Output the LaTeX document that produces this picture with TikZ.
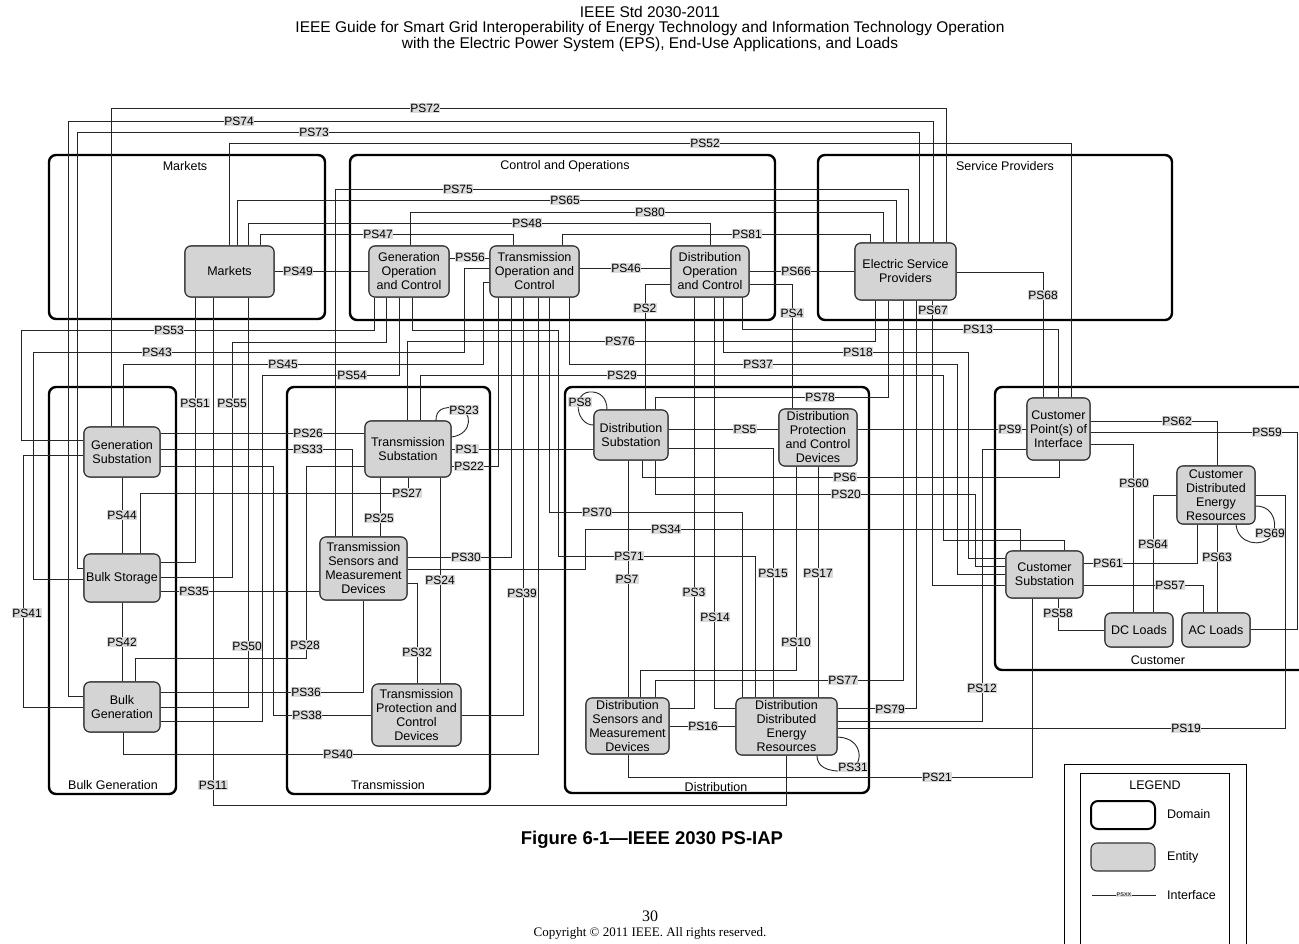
\documentclass[tikz,border=0pt]{standalone}
\usepackage{fontspec}
\setmainfont{Liberation Sans}
\newfontfamily\serifface{Liberation Serif}
\begin{document}
\begin{tikzpicture}[x=1pt,y=-1pt,
  dom/.style={draw=black, line width=2.4pt, rounded corners=7pt, inner sep=0pt},
  ent/.style={draw=black!80, line width=1.1pt, fill=black!17, rounded corners=6pt, align=center, font=\fontsize{12.5}{14}\selectfont, inner sep=1pt},
  ln/.style={draw=black!85, line width=0.9pt},
  lbl/.style={fill=black!14, inner sep=0.6pt, font=\fontsize{12}{12}\selectfont},
  dlbl/.style={font=\fontsize{12.5}{14}\selectfont, inner sep=0pt},
  hdr/.style={font=\fontsize{15.5}{17}\selectfont, inner sep=0pt}]
\useasboundingbox (0,0) rectangle (1299,943);
\fill[white] (0,0) rectangle (1299,943);

% header
\node[hdr] (h1) at (650,12) {IEEE Std 2030-2011};
\node[hdr] (h2) at (650,28) {IEEE Guide for Smart Grid Interoperability of Energy Technology and Information Technology Operation};
\node[hdr] (h3) at (650,44) {with the Electric Power System (EPS), End-Use Applications, and Loads};

% domains
\node[dom, minimum width=276, minimum height=164] (dmk) at (187,237) {};
\node[dom, minimum width=425, minimum height=165] (dco) at (562.5,237.5) {};
\node[dom, minimum width=354, minimum height=165] (dsp) at (995,237.5) {};
\node[dom, minimum width=127, minimum height=407] (dbg) at (112.5,590.5) {};
\node[dom, minimum width=203, minimum height=407] (dtr) at (388.5,590.5) {};
\node[dom, minimum width=304, minimum height=406] (ddi) at (717,590) {};
\node[dom, minimum width=320, minimum height=283] (dcu) at (1155,528.5) {};
\node[dlbl] (tmk) at (185,166) {Markets};
\node[dlbl] (tco) at (565,166) {Control and Operations};
\node[dlbl] (tsp) at (1005,166) {Service Providers};
\node[dlbl] (tbg) at (113,785) {Bulk Generation};
\node[dlbl] (ttr) at (388,785) {Transmission};
\node[dlbl] (tdi) at (716,787) {Distribution};
\node[dlbl] (tcu) at (1158,660) {Customer};

% entities (placed first for anchors, redrawn later on top)
\path
 node[ent, minimum width=89, minimum height=51] (mk) at (229.5,271.5) {Markets}
 node[ent, minimum width=80, minimum height=51] (goc) at (409,271.5) {Generation\\Operation\\and Control}
 node[ent, minimum width=89, minimum height=51] (toc) at (534.5,271.5) {Transmission\\Operation and\\Control}
 node[ent, minimum width=78, minimum height=51] (doc) at (710,271.5) {Distribution\\Operation\\and Control}
 node[ent, minimum width=101, minimum height=57] (esp) at (905.5,271.5) {Electric Service\\Providers}
 node[ent, minimum width=76, minimum height=50] (gsub) at (122,452) {Generation\\Substation}
 node[ent, minimum width=76, minimum height=48] (bst) at (122,578) {Bulk Storage}
 node[ent, minimum width=76, minimum height=50] (bgen) at (122,707) {Bulk\\Generation}
 node[ent, minimum width=86, minimum height=56] (ts) at (408,449) {Transmission\\Substation}
 node[ent, minimum width=87, minimum height=63] (tsmd) at (363.5,568.5) {Transmission\\Sensors and\\Measurement\\Devices}
 node[ent, minimum width=89, minimum height=62] (tpcd) at (416.5,715) {Transmission\\Protection and\\Control\\Devices}
 node[ent, minimum width=74, minimum height=50] (dsub) at (631,435) {Distribution\\Substation}
 node[ent, minimum width=78, minimum height=57] (dpcd) at (818,437.5) {Distribution\\Protection\\and Control\\Devices}
 node[ent, minimum width=83, minimum height=56] (dsmd) at (627.5,726) {Distribution\\Sensors and\\Measurement\\Devices}
 node[ent, minimum width=101, minimum height=57] (dder) at (786.5,726.5) {Distribution\\Distributed\\Energy\\Resources}
 node[ent, minimum width=63, minimum height=62] (cpi) at (1058.5,429) {Customer\\Point(s) of\\Interface}
 node[ent, minimum width=78, minimum height=58] (cder) at (1216,495) {Customer\\Distributed\\Energy\\Resources}
 node[ent, minimum width=77, minimum height=47] (csub) at (1044.5,574.5) {Customer\\Substation}
 node[ent, minimum width=68, minimum height=34] (dcl) at (1139,630) {DC Loads}
 node[ent, minimum width=68, minimum height=34] (acl) at (1216,630) {AC Loads};

% connectors
\draw[ln] (gsub.north -| 111,0) |- (946,108) -- (esp.north -| 946,0);
\draw[ln] (bgen.west |- 0,696) -| (68,121) -| (esp.north -| 933,0);
\draw[ln] (bst.west |- 0,568) -| (77,132) -| (esp.north -| 919,0);
\draw[ln] (mk.north -| 229,0) |- (1071,143) -- (cpi.north -| 1071,0);
\draw[ln] (tsmd.north -| 335,0) |- (908,189) -- (esp.north -| 908,0);
\draw[ln] (mk.north -| 237,0) |- (896,200) -- (esp.north -| 896,0);
\draw[ln] (goc.north -| 410,0) |- (883,212) -- (esp.north -| 883,0);
\draw[ln] (mk.north -| 248,0) |- (710,223) -- (doc.north -| 710,0);
\draw[ln] (mk.north -| 260,0) |- (513,234) -- (toc.north -| 513,0);
\draw[ln] (toc.north -| 562,0) |- (870,234) -- (esp.north -| 870,0);
\draw[ln] (mk.east |- 0,271) -- (goc.west |- 0,271);
\draw[ln] (goc.east |- 0,258) -- (toc.west |- 0,258);
\draw[ln] (toc.east |- 0,268) -- (doc.west |- 0,268);
\draw[ln] (doc.east |- 0,271) -- (esp.west |- 0,271);
\draw[ln] (esp.east |- 0,272) -| (cpi.north -| 1043,0);
\draw[ln] (doc.west |- 0,284) -| (dsub.north -| 645,0);
\draw[ln] (doc.east |- 0,284) -| (dpcd.north -| 792,0);
\draw[ln] (esp.south -| 932,0) |- (csub.west |- 0,585);
\draw[ln] (doc.south -| 742,0) |- (1058,329) -- (cpi.north -| 1058,0);
\draw[ln] (goc.south -| 374,0) |- (21,330) |- (gsub.west |- 0,440);
\draw[ln] (toc.west |- 0,268) -| (464,352) -| (33,579) -- (bst.west |- 0,579);
\draw[ln] (toc.west |- 0,282) -| (483,364) -| (gsub.north -| 123,0);
\draw[ln] (ts.north -| 407,0) |- (875,341) -- (esp.south -| 875,0);
\draw[ln] (goc.south -| 386,0) |- (232,342) |- (bst.east |- 0,577);
\draw[ln] (goc.south -| 399,0) |- (262,375) |- (bgen.east |- 0,721);
\draw[ln] (ts.north -| 420,0) |- (943,375) |- (1064,540) -- (csub.north -| 1064,0);
\draw[ln] (goc.south -| 412,0) |- (558,330) |- (755,556) -- (dder.north -| 755,0);
\draw[ln] (toc.south -| 569,0) |- (957,364) |- (csub.west |- 0,574);
\draw[ln] (doc.south -| 723,0) |- (968,352) |- (csub.west |- 0,558);
\draw[ln] (mk.south -| 195,0) |- (bst.east |- 0,562);
\draw[ln] (mk.south -| 248,0) |- (bgen.east |- 0,707);
\draw[ln] (mk.south -| 213,0) |- (786,805) -- (dder.south -| 786,0);
\draw[ln] (dsub.north -| 655,0) |- (888,397) -- (esp.south -| 888,0);
\draw[ln] (dsub.west |- 0,425) .. controls (576,425) and (572,394) .. (589,392) .. controls (600,391) and (607,398) .. (dsub.north -| 607,0);
\draw[ln] (ts.east |- 0,437) .. controls (474,434) and (472,410) .. (458,408) .. controls (442,406) and (436,410) .. (ts.north -| 436,0);
\draw[ln] (gsub.east |- 0,433) -- (ts.west |- 0,433);
\draw[ln] (gsub.east |- 0,449) -| (tsmd.north -| 352,0);
\draw[ln] (gsub.east |- 0,466) -| (273,715) -- (tpcd.west |- 0,715);
\draw[ln] (ts.west |- 0,466) -| (306,658) -| (bgen.north -| 135,0);
\draw[ln] (bst.north -| 140,0) |- (408,493) -- (ts.south -| 408,0);
\draw[ln] (gsub.south) -- (bst.north);
\draw[ln] (bst.south) -- (bgen.north);
\draw[ln] (gsub.west |- 0,455) -| (23,707) -- (bgen.west |- 0,707);
\draw[ln] (bst.east |- 0,591) -- (tsmd.west |- 0,591);
\draw[ln] (bgen.east |- 0,692) -| (tsmd.south -| 363,0);
\draw[ln] (bgen.south -| 123,0) |- (538,754) -- (toc.south -| 538,0);
\draw[ln] (tpcd.east |- 0,715) -| (toc.south -| 523,0);
\draw[ln] (tsmd.east |- 0,557) -| (toc.south -| 511,0);
\draw[ln] (ts.east |- 0,466) -| (toc.south -| 498,0);
\draw[ln] (ts.east |- 0,449) -- (dsub.west |- 0,449);
\draw[ln] (ts.south -| 380,0) -- (tsmd.north -| 380,0);
\draw[ln] (ts.south -| 440,0) -- (tpcd.north -| 440,0);
\draw[ln] (tsmd.east |- 0,583) -| (tpcd.north -| 417,0);
\draw[ln] (tsmd.east |- 0,569) -| (585,529) -| (csub.north -| 1020,0);
\draw[ln] (toc.south -| 549,0) |- (742,512) -- (dder.north -| 742,0);
\draw[ln] (dsub.east |- 0,429) -- (dpcd.west |- 0,429);
\draw[ln] (dpcd.east |- 0,429) -- (cpi.west |- 0,429);
\draw[ln] (dsub.east |- 0,448) -| (dder.north -| 773,0);
\draw[ln] (dsub.south -| 642,0) |- (1059,477) -- (cpi.south -| 1059,0);
\draw[ln] (dsub.south -| 655,0) |- (975,494) |- (csub.west |- 0,566);
\draw[ln] (dsub.south -| 628,0) -- (dsmd.north -| 628,0);
\draw[ln] (doc.south -| 694,0) |- (dsmd.east |- 0,708);
\draw[ln] (doc.south -| 714,0) |- (dder.west |- 0,708);
\draw[ln] (dsmd.east |- 0,726) -- (dder.west |- 0,726);
\draw[ln] (dsmd.north -| 640,0) |- (796,670) -- (dpcd.south -| 796,0);
\draw[ln] (dpcd.south -| 818,0) -- (dder.north -| 818,0);
\draw[ln] (dsmd.north -| 655,0) |- (903,680) -- (esp.south -| 903,0);
\draw[ln] (dder.east |- 0,708) -| (esp.south -| 916,0);
\draw[ln] (cpi.west |- 0,449) -| (982,721) -- (dder.east |- 0,721);
\draw[ln] (dder.east |- 0,728) -| (1285,495) -- (cder.east |- 0,495);
\draw[ln] (dder.east |- 0,737) .. controls (866,738) and (864,770) .. (845,771) .. controls (826,772) and (817,766) .. (dder.south -| 817,0);
\draw[ln] (dsmd.south -| 628,0) |- (1032,777) -- (csub.south -| 1032,0);
\draw[ln] (csub.south -| 1058,0) |- (dcl.west |- 0,630);
\draw[ln] (cpi.east |- 0,444) -| (dcl.north -| 1133,0);
\draw[ln] (cder.west |- 0,495) -| (dcl.north -| 1153,0);
\draw[ln] (cder.south -| 1217,0) -- (acl.north -| 1217,0);
\draw[ln] (csub.east |- 0,563) -| (cder.south -| 1197,0);
\draw[ln] (csub.east |- 0,585) -| (acl.north -| 1203,0);
\draw[ln] (cpi.east |- 0,421) -| (cder.north -| 1217,0);
\draw[ln] (cpi.east |- 0,432) -| (1297,629) -- (acl.east |- 0,629);
\draw[ln] (cder.east |- 0,506) .. controls (1276,506) and (1278,528) .. (1271,537) .. controls (1262,547) and (1238,545) .. (cder.south -| 1236,0);

% entities redrawn on top of connectors
\path
 node[ent, minimum width=89, minimum height=51] (mk2) at (229.5,271.5) {Markets}
 node[ent, minimum width=80, minimum height=51] (goc2) at (409,271.5) {Generation\\Operation\\and Control}
 node[ent, minimum width=89, minimum height=51] (toc2) at (534.5,271.5) {Transmission\\Operation and\\Control}
 node[ent, minimum width=78, minimum height=51] (doc2) at (710,271.5) {Distribution\\Operation\\and Control}
 node[ent, minimum width=101, minimum height=57] (esp2) at (905.5,271.5) {Electric Service\\Providers}
 node[ent, minimum width=76, minimum height=50] (gsub2) at (122,452) {Generation\\Substation}
 node[ent, minimum width=76, minimum height=48] (bst2) at (122,578) {Bulk Storage}
 node[ent, minimum width=76, minimum height=50] (bgen2) at (122,707) {Bulk\\Generation}
 node[ent, minimum width=86, minimum height=56] (ts2) at (408,449) {Transmission\\Substation}
 node[ent, minimum width=87, minimum height=63] (tsmd2) at (363.5,568.5) {Transmission\\Sensors and\\Measurement\\Devices}
 node[ent, minimum width=89, minimum height=62] (tpcd2) at (416.5,715) {Transmission\\Protection and\\Control\\Devices}
 node[ent, minimum width=74, minimum height=50] (dsub2) at (631,435) {Distribution\\Substation}
 node[ent, minimum width=78, minimum height=57] (dpcd2) at (818,437.5) {Distribution\\Protection\\and Control\\Devices}
 node[ent, minimum width=83, minimum height=56] (dsmd2) at (627.5,726) {Distribution\\Sensors and\\Measurement\\Devices}
 node[ent, minimum width=101, minimum height=57] (dder2) at (786.5,726.5) {Distribution\\Distributed\\Energy\\Resources}
 node[ent, minimum width=63, minimum height=62] (cpi2) at (1058.5,429) {Customer\\Point(s) of\\Interface}
 node[ent, minimum width=78, minimum height=58] (cder2) at (1216,495) {Customer\\Distributed\\Energy\\Resources}
 node[ent, minimum width=77, minimum height=47] (csub2) at (1044.5,574.5) {Customer\\Substation}
 node[ent, minimum width=68, minimum height=34] (dcl2) at (1139,630) {DC Loads}
 node[ent, minimum width=68, minimum height=34] (acl2) at (1216,630) {AC Loads};

% interface labels
\node[lbl] (l72) at (425,108) {PS72};
\node[lbl] (l74) at (239,121) {PS74};
\node[lbl] (l73) at (314,132) {PS73};
\node[lbl] (l52) at (705,143) {PS52};
\node[lbl] (l75) at (458,189) {PS75};
\node[lbl] (l65) at (565,200) {PS65};
\node[lbl] (l80) at (650,212) {PS80};
\node[lbl] (l48) at (527,223) {PS48};
\node[lbl] (l47) at (378,234) {PS47};
\node[lbl] (l81) at (747,234) {PS81};
\node[lbl] (l49) at (298,271) {PS49};
\node[lbl] (l56) at (470,257) {PS56};
\node[lbl] (l46) at (626,268) {PS46};
\node[lbl] (l66) at (796,271) {PS66};
\node[lbl] (l68) at (1043,295) {PS68};
\node[lbl] (l2) at (645,308) {PS2};
\node[lbl] (l4) at (792,313) {PS4};
\node[lbl] (l67) at (933,310) {PS67};
\node[lbl] (l13) at (978,329) {PS13};
\node[lbl] (l53) at (169,330) {PS53};
\node[lbl] (l43) at (157,352) {PS43};
\node[lbl] (l76) at (620,341) {PS76};
\node[lbl] (l18) at (858,352) {PS18};
\node[lbl] (l45) at (283,364) {PS45};
\node[lbl] (l37) at (758,364) {PS37};
\node[lbl] (l54) at (352,375) {PS54};
\node[lbl] (l29) at (622,375) {PS29};
\node[lbl] (l51) at (195,403) {PS51};
\node[lbl] (l55) at (232,403) {PS55};
\node[lbl] (l78) at (820,397) {PS78};
\node[lbl] (l8) at (580,402) {PS8};
\node[lbl] (l23) at (464,410) {PS23};
\node[lbl] (l26) at (308,433) {PS26};
\node[lbl] (l33) at (308,449) {PS33};
\node[lbl] (l1) at (467,449) {PS1};
\node[lbl] (l22) at (469,466) {PS22};
\node[lbl] (l5) at (745,429) {PS5};
\node[lbl] (l9) at (1010,429) {PS9};
\node[lbl] (l62) at (1177,421) {PS62};
\node[lbl] (l59) at (1267,432) {PS59};
\node[lbl] (l6) at (845,477) {PS6};
\node[lbl] (l20) at (846,494) {PS20};
\node[lbl] (l27) at (407,493) {PS27};
\node[lbl] (l44) at (122,515) {PS44};
\node[lbl] (l25) at (379,518) {PS25};
\node[lbl] (l70) at (597,512) {PS70};
\node[lbl] (l34) at (666,529) {PS34};
\node[lbl] (l60) at (1134,483) {PS60};
\node[lbl] (l69) at (1270,533) {PS69};
\node[lbl] (l64) at (1153,544) {PS64};
\node[lbl] (l63) at (1217,557) {PS63};
\node[lbl] (l61) at (1108,563) {PS61};
\node[lbl] (l30) at (466,557) {PS30};
\node[lbl] (l71) at (629,556) {PS71};
\node[lbl] (l7) at (627,579) {PS7};
\node[lbl] (l15) at (773,573) {PS15};
\node[lbl] (l17) at (818,573) {PS17};
\node[lbl] (l3) at (694,592) {PS3};
\node[lbl] (l39) at (522,593) {PS39};
\node[lbl] (l35) at (194,591) {PS35};
\node[lbl] (l57) at (1170,585) {PS57};
\node[lbl] (l24) at (440,580) {PS24};
\node[lbl] (l41) at (27,613) {PS41};
\node[lbl] (l14) at (715,617) {PS14};
\node[lbl] (l58) at (1058,613) {PS58};
\node[lbl] (l42) at (122,642) {PS42};
\node[lbl] (l50) at (247,646) {PS50};
\node[lbl] (l28) at (305,645) {PS28};
\node[lbl] (l32) at (417,652) {PS32};
\node[lbl] (l10) at (796,642) {PS10};
\node[lbl] (l36) at (306,692) {PS36};
\node[lbl] (l12) at (982,688) {PS12};
\node[lbl] (l77) at (843,680) {PS77};
\node[lbl] (l38) at (307,715) {PS38};
\node[lbl] (l79) at (890,709) {PS79};
\node[lbl] (l16) at (703,726) {PS16};
\node[lbl] (l19) at (1186,728) {PS19};
\node[lbl] (l40) at (338,754) {PS40};
\node[lbl] (l31) at (853,767) {PS31};
\node[lbl] (l21) at (937,777) {PS21};
\node[lbl] (l11) at (213,785) {PS11};

% caption
\node[font=\bfseries\fontsize{18.5}{20}\selectfont, inner sep=0pt] (cap) at (652,840) {Figure 6-1—IEEE 2030 PS-IAP};
\node[font=\serifface\fontsize{16}{18}\selectfont, inner sep=0pt] (pg) at (650,916) {30};
\node[font=\serifface\fontsize{13}{15}\selectfont, inner sep=0pt] (cpy) at (650,933) {Copyright © 2011 IEEE. All rights reserved.};

% legend
\node[draw=black, line width=0.8pt, minimum width=182, minimum height=220, anchor=north west, inner sep=0pt] (legout) at (1064,764) {};
\node[draw=black, line width=0.8pt, minimum width=149, minimum height=220, anchor=north west, inner sep=0pt] (legin) at (1080,773) {};
\node[dlbl] (legt) at (1155,785) {LEGEND};
\node[dom, line width=2pt, minimum width=64, minimum height=28] (legdom) at (1123,815) {};
\node[dlbl, anchor=west] (legdomt) at (1167,814) {Domain};
\node[ent, minimum width=64, minimum height=28] (legent) at (1123,857) {};
\node[dlbl, anchor=west] (legentt) at (1167,857) {Entity};
\coordinate (lia) at (1092,895);
\coordinate (lib) at (1156,895);
\draw[ln, line width=0.6pt] (lia) -- (lib);
\node[fill=black!12, inner sep=0.4pt, font=\fontsize{5.5}{6}\selectfont] (lipsx) at (1124,895) {PSXX};
\node[dlbl, anchor=west] (legif) at (1167,895) {Interface};
\end{tikzpicture}
\end{document}
